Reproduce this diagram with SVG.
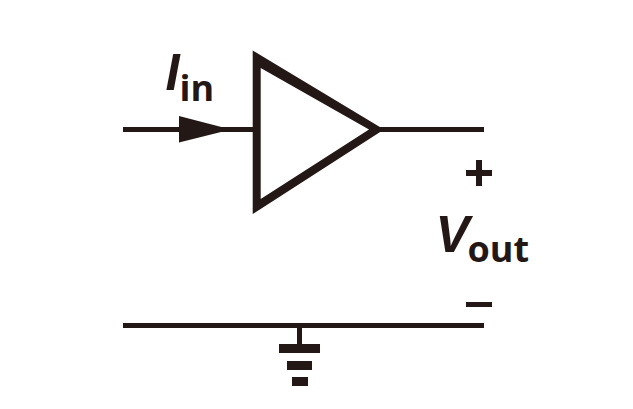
<svg xmlns="http://www.w3.org/2000/svg" width="633" height="409" viewBox="0 0 633 409">
<style>
.g{fill:#231815}
.t{fill:#231815}
.v{font-family:"Liberation Sans",Arial,sans-serif;font-weight:700;font-style:italic;font-size:51px}
.s{font-family:"Open Sans","Liberation Sans",sans-serif;font-weight:700;font-size:36px}
</style>
<rect width="633" height="409" fill="#fff"/>
<g id="connectors">
<rect class="g" x="123" y="127" width="131" height="5"/>
<rect class="g" x="378" y="127" width="106" height="5"/>
<rect class="g" x="123" y="323" width="361" height="5"/>
<rect class="g" x="297" y="326" width="5" height="20"/>
<path class="g" d="M179 116L231 129.5L179 142.5Z"/>
</g>
<g id="amp"><path class="g" fill-rule="evenodd" d="M252.7 50.5L384 129.5L252.7 214ZM260.7 68V199L369 129.5Z"/></g>
<g id="gnd">
<rect class="g" x="279" y="344" width="41" height="9"/>
<rect class="g" x="287" y="361" width="25" height="9"/>
<rect class="g" x="292" y="377" width="16" height="9"/>
</g>
<g id="Iin"><text class="t v" x="165.5" y="90">I</text><text class="t s" x="179.5" y="100.5">in</text></g>
<g id="Vout"><text class="t v" x="435.5" y="252">V</text><text class="t s" x="467.5" y="261.5">out</text></g>
<g id="plus"><path class="g" d="M476 160H482V170H492V176H482V186H476V176H466V170H476Z"/></g>
<g id="minus"><rect class="g" x="466" y="302" width="26" height="5"/></g>
</svg>
